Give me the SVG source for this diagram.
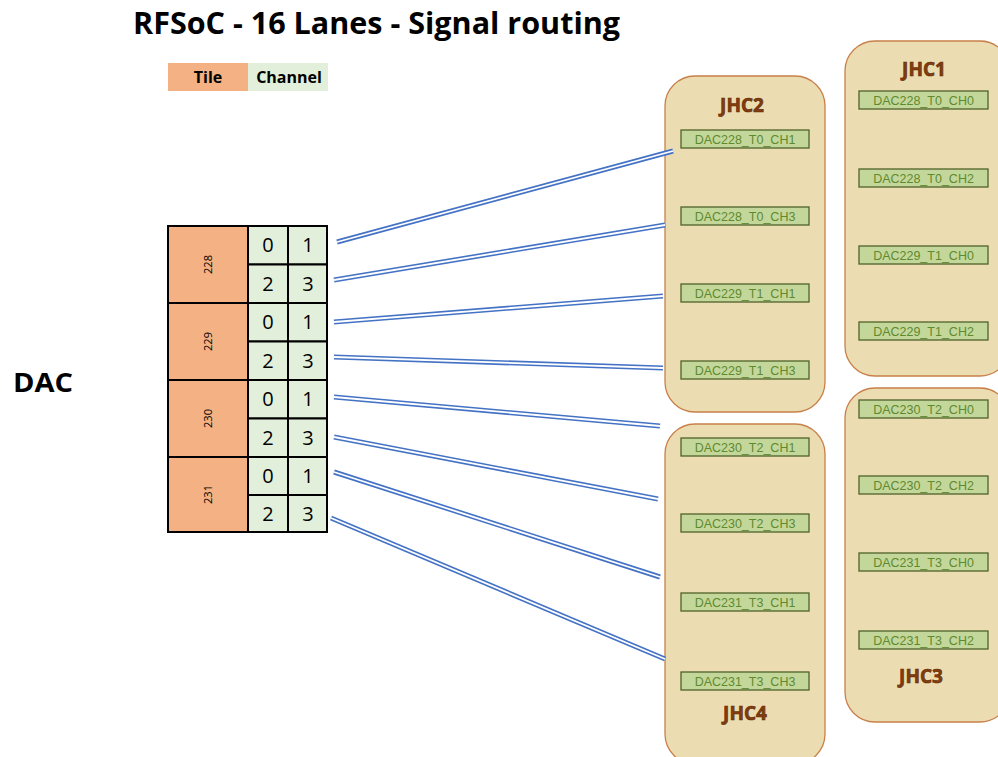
<svg xmlns="http://www.w3.org/2000/svg" width="998" height="757" viewBox="0 0 998 757">
<style>
.title{font-family:"Open Sans","Liberation Sans",sans-serif;font-weight:bold;font-size:30px;fill:#000}
.leg{font-family:"Open Sans","Liberation Sans",sans-serif;font-weight:bold;font-size:16px;fill:#000}
.tile{fill:#F4B183;stroke:#000;stroke-width:2}
.ch{fill:#E2EFDA;stroke:#000;stroke-width:2}
.num{font-family:"Open Sans","Liberation Sans",sans-serif;font-size:20px;fill:#000}
.tnum{font-family:"Open Sans","Liberation Sans",sans-serif;font-size:11px;fill:#000}
.conn{fill:#ECDCB1;stroke:#C8804A;stroke-width:1.3}
.jhc{font-family:"Open Sans","Liberation Sans",sans-serif;font-weight:bold;font-size:19px;fill:#843C0C;stroke:#5a2a08;stroke-width:0.6}
.sig{fill:#C4D79B;stroke:#4F6228;stroke-width:1.3}
.st{font-family:"Liberation Sans","Open Sans",sans-serif;font-size:12.5px;fill:#5E8A2E}
.wb{stroke:#4472C4;stroke-width:5;fill:none}
.ww{stroke:#fff;stroke-width:1.8;fill:none}
</style>
<rect width="998" height="757" fill="#fff"/>
<text class="title" x="133" y="34" textLength="487" lengthAdjust="spacingAndGlyphs">RFSoC - 16 Lanes - Signal routing</text>
<g id="legend">
<rect x="168" y="63" width="80" height="28" fill="#F4B183"/>
<rect x="248" y="63" width="80" height="28" fill="#E2EFDA"/>
<text class="leg" x="208" y="83" text-anchor="middle">Tile</text>
<text class="leg" x="289" y="83" text-anchor="middle">Channel</text>
</g>
<text id="dac-label" x="13" y="392" font-family="Open Sans, Liberation Sans, sans-serif" font-weight="bold" font-size="26" textLength="60" lengthAdjust="spacingAndGlyphs">DAC</text>
<g id="dac-table">
<rect class="tile" x="168" y="226" width="80" height="77"/>
<rect class="tile" x="168" y="303" width="80" height="77"/>
<rect class="tile" x="168" y="380" width="80" height="77"/>
<rect class="tile" x="168" y="457" width="80" height="75"/>
<text class="tnum" transform="translate(212,264.5) rotate(-90)" text-anchor="middle">228</text>
<text class="tnum" transform="translate(212,341.5) rotate(-90)" text-anchor="middle">229</text>
<text class="tnum" transform="translate(212,418.5) rotate(-90)" text-anchor="middle">230</text>
<text class="tnum" transform="translate(212,494.5) rotate(-90)" text-anchor="middle">231</text>
<g>
<rect class="ch" x="248" y="226" width="40" height="38.5"/><rect class="ch" x="288" y="226" width="39" height="38.5"/>
<rect class="ch" x="248" y="264.5" width="40" height="38.5"/><rect class="ch" x="288" y="264.5" width="39" height="38.5"/>
<rect class="ch" x="248" y="303" width="40" height="38.5"/><rect class="ch" x="288" y="303" width="39" height="38.5"/>
<rect class="ch" x="248" y="341.5" width="40" height="38.5"/><rect class="ch" x="288" y="341.5" width="39" height="38.5"/>
<rect class="ch" x="248" y="380" width="40" height="38.5"/><rect class="ch" x="288" y="380" width="39" height="38.5"/>
<rect class="ch" x="248" y="418.5" width="40" height="38.5"/><rect class="ch" x="288" y="418.5" width="39" height="38.5"/>
<rect class="ch" x="248" y="457" width="40" height="38"/><rect class="ch" x="288" y="457" width="39" height="38"/>
<rect class="ch" x="248" y="495" width="40" height="37"/><rect class="ch" x="288" y="495" width="39" height="37"/>
</g>
<g class="num" text-anchor="middle">
<text x="268" y="252">0</text><text x="308" y="252">1</text>
<text x="268" y="291">2</text><text x="308" y="291">3</text>
<text x="268" y="329">0</text><text x="308" y="329">1</text>
<text x="268" y="368">2</text><text x="308" y="368">3</text>
<text x="268" y="406">0</text><text x="308" y="406">1</text>
<text x="268" y="445">2</text><text x="308" y="445">3</text>
<text x="268" y="483">0</text><text x="308" y="483">1</text>
<text x="268" y="521">2</text><text x="308" y="521">3</text>
</g>
</g>
<g id="JHC1">
<rect class="conn" x="845" y="41" width="165" height="335" rx="30"/>
<text class="jhc" x="924" y="76" text-anchor="middle">JHC1</text>
</g>
<g id="JHC2">
<rect class="conn" x="665" y="76" width="160" height="336" rx="30"/>
<text class="jhc" x="742" y="112" text-anchor="middle">JHC2</text>
</g>
<g id="JHC3">
<rect class="conn" x="845" y="388" width="165" height="334" rx="30"/>
<text class="jhc" x="921" y="683" text-anchor="middle">JHC3</text>
</g>
<g id="JHC4">
<rect class="conn" x="665" y="424" width="160" height="340" rx="30"/>
<text class="jhc" x="745" y="720" text-anchor="middle">JHC4</text>
</g>
<g id="signals">
<g id="s228_1"><rect class="sig" x="681" y="130" width="128" height="18"/><text class="st" x="745" y="143.5" text-anchor="middle">DAC228_T0_CH1</text></g>
<g id="s228_3"><rect class="sig" x="681" y="207" width="128" height="18"/><text class="st" x="745" y="220.5" text-anchor="middle">DAC228_T0_CH3</text></g>
<g id="s229_1"><rect class="sig" x="681" y="284" width="128" height="18"/><text class="st" x="745" y="297.5" text-anchor="middle">DAC229_T1_CH1</text></g>
<g id="s229_3"><rect class="sig" x="681" y="361" width="128" height="18"/><text class="st" x="745" y="374.5" text-anchor="middle">DAC229_T1_CH3</text></g>
<g id="s230_1"><rect class="sig" x="681" y="438" width="128" height="18"/><text class="st" x="745" y="451.5" text-anchor="middle">DAC230_T2_CH1</text></g>
<g id="s230_3"><rect class="sig" x="681" y="514" width="128" height="18"/><text class="st" x="745" y="527.5" text-anchor="middle">DAC230_T2_CH3</text></g>
<g id="s231_1"><rect class="sig" x="681" y="593" width="128" height="18"/><text class="st" x="745" y="606.5" text-anchor="middle">DAC231_T3_CH1</text></g>
<g id="s231_3"><rect class="sig" x="681" y="672" width="128" height="18"/><text class="st" x="745" y="685.5" text-anchor="middle">DAC231_T3_CH3</text></g>
<g id="s228_0"><rect class="sig" x="859" y="91" width="129" height="18"/><text class="st" x="923.5" y="104.5" text-anchor="middle">DAC228_T0_CH0</text></g>
<g id="s228_2"><rect class="sig" x="859" y="169" width="129" height="18"/><text class="st" x="923.5" y="182.5" text-anchor="middle">DAC228_T0_CH2</text></g>
<g id="s229_0"><rect class="sig" x="859" y="246" width="129" height="18"/><text class="st" x="923.5" y="259.5" text-anchor="middle">DAC229_T1_CH0</text></g>
<g id="s229_2"><rect class="sig" x="859" y="322" width="129" height="18"/><text class="st" x="923.5" y="335.5" text-anchor="middle">DAC229_T1_CH2</text></g>
<g id="s230_0"><rect class="sig" x="859" y="400" width="129" height="18"/><text class="st" x="923.5" y="413.5" text-anchor="middle">DAC230_T2_CH0</text></g>
<g id="s230_2"><rect class="sig" x="859" y="476" width="129" height="18"/><text class="st" x="923.5" y="489.5" text-anchor="middle">DAC230_T2_CH2</text></g>
<g id="s231_0"><rect class="sig" x="859" y="553" width="129" height="18"/><text class="st" x="923.5" y="566.5" text-anchor="middle">DAC231_T3_CH0</text></g>
<g id="s231_2"><rect class="sig" x="859" y="631" width="129" height="18"/><text class="st" x="923.5" y="644.5" text-anchor="middle">DAC231_T3_CH2</text></g>
</g>
<g id="connectors">
<g class="wb">
<line x1="337" y1="242" x2="673" y2="151"/>
<line x1="334" y1="280" x2="665" y2="225"/>
<line x1="334" y1="322" x2="663" y2="296"/>
<line x1="334" y1="357" x2="663" y2="368"/>
<line x1="334" y1="397" x2="660" y2="426"/>
<line x1="334" y1="437" x2="658" y2="499"/>
<line x1="334" y1="472" x2="660" y2="577"/>
<line x1="331" y1="518" x2="665" y2="659"/>
</g>
<g class="ww">
<line x1="337" y1="242" x2="673" y2="151"/>
<line x1="334" y1="280" x2="665" y2="225"/>
<line x1="334" y1="322" x2="663" y2="296"/>
<line x1="334" y1="357" x2="663" y2="368"/>
<line x1="334" y1="397" x2="660" y2="426"/>
<line x1="334" y1="437" x2="658" y2="499"/>
<line x1="334" y1="472" x2="660" y2="577"/>
<line x1="331" y1="518" x2="665" y2="659"/>
</g>
</g>
</svg>
